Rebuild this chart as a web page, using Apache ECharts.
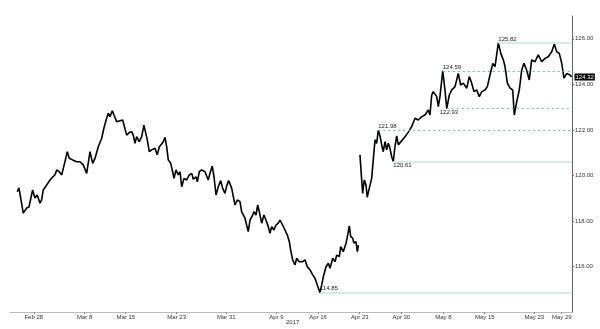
<!DOCTYPE html>
<html>
<head>
<meta charset="utf-8">
<script src="https://cdn.jsdelivr.net/npm/echarts@6/dist/echarts.min.js"></script>
<style>
 html, body { margin: 0; padding: 0; background: #fff; }
 #chart { width: 600px; height: 329px; }
</style>
</head>
<body>
<div id="chart"></div>
<script>
// x = trading days from Feb 28 (weekends squeezed out)
const times = [
 -1.88, -1.68, -1.16, -0.75, -0.48, -0.04, 0.24, 0.51, 0.84, 1.04,
 1.23, 1.64, 2.04, 2.36, 2.63, 2.84, 3.15, 3.44, 3.83, 4.11,
 4.35, 4.75, 5.23, 5.63, 6.02, 6.43, 6.83, 7.15, 7.43, 7.82,
 8.23, 8.50, 8.83, 9.02, 9.22, 9.50, 9.70, 10.02, 10.42, 10.74,
 10.90, 11.22, 11.53, 11.82, 12.01, 12.22, 12.42, 12.73, 13.02, 13.29,
 13.50, 13.69, 13.93, 14.22, 14.61, 14.89, 15.13, 15.41, 15.60, 15.81,
 16.01, 16.20, 16.49, 16.73, 16.89, 17.13, 17.40, 17.61, 17.81, 18.09,
 18.41, 18.72, 19.01, 19.20, 19.52, 19.68, 19.92, 20.20, 20.60, 20.80,
 20.99, 21.20, 21.47, 21.68, 21.92, 22.19, 22.48, 22.72, 22.99, 23.20,
 23.44, 23.80, 24.19, 24.47, 24.79, 24.99, 25.39, 25.78, 25.99, 26.31,
 26.47, 26.71, 26.91, 27.10, 27.39, 27.66, 27.90, 28.18, 28.38, 28.59,
 28.86, 29.10, 29.38, 29.58, 29.90, 30.18, 30.46, 30.70, 30.86, 31.10,
 31.38, 31.58, 31.89, 32.30, 32.57, 32.85, 33.17, 33.50, 33.77, 34.05,
 34.37, 34.58, 34.77, 35.09, 35.37, 35.57, 35.90, 36.17, 36.38, 36.69,
 36.85, 37.16, 37.49, 37.69, 37.88, 38.05, 38.29, 38.44, 38.68, 38.84,
 38.98, 39.05, 39.16, 39.28, 39.48, 39.68, 39.88, 40.03, 40.27, 40.56,
 40.75, 40.96, 41.16, 41.35, 41.56, 41.76, 41.95, 42.16, 42.36, 42.55,
 42.75, 42.96, 43.15, 43.35, 43.56, 43.75, 43.95, 44.55, 44.95, 45.35,
 45.75, 46.14, 46.55, 46.94, 47.34, 47.54, 47.75, 47.94, 48.35, 48.54,
 48.74, 49.07, 49.34, 49.55, 49.86, 50.14, 50.54, 50.93, 51.22, 51.53,
 51.94, 52.25, 52.54, 52.81, 53.14, 53.45, 53.74, 54.13, 54.41, 54.73,
 55.06, 55.33, 55.61, 55.73, 56.02, 56.33, 56.53, 56.81, 57.13, 57.45,
 57.64, 57.93, 58.24, 58.53, 58.80, 59.12, 59.43, 59.72, 60.12, 60.51,
 60.92, 61.32, 61.71, 62.12, 62.43, 62.72, 63.03, 63.32, 63.59, 63.92,
 64.31, 64.49
]
// null = weekend gap before the Apr 24 open
const prices = [
 119.28, 119.45, 118.34, 118.57, 118.61, 119.36, 119.01, 119.14, 118.78, 118.92,
 119.36, 119.58, 119.80, 119.93, 120.02, 120.24, 120.16, 120.02, 120.60, 121.04,
 120.75, 120.68, 120.60, 120.60, 120.46, 120.09, 121.04, 120.53, 120.75, 121.26,
 121.63, 122.08, 122.52, 122.73, 122.58, 122.84, 122.65, 122.36, 122.40, 122.43,
 122.21, 121.77, 121.88, 121.92, 121.77, 121.41, 121.70, 121.48, 121.70, 122.21,
 122.14, 121.56, 121.04, 121.12, 121.19, 120.90, 121.26, 121.38, 121.48, 121.67,
 121.26, 120.68, 120.53, 120.16, 119.87, 120.24, 120.02, 120.16, 119.50, 119.87,
 119.80, 120.02, 120.09, 119.83, 119.94, 119.72, 120.16, 120.24, 120.16, 120.24,
 119.80, 120.09, 120.41, 119.94, 119.14, 119.50, 119.77, 119.43, 119.21, 119.54,
 119.77, 119.43, 118.70, 118.92, 118.85, 118.41, 118.12, 117.53, 118.04, 118.26,
 118.41, 118.26, 118.70, 118.41, 117.90, 118.26, 118.04, 117.75, 117.46, 117.75,
 117.60, 117.82, 117.90, 118.04, 117.82, 117.60, 117.38, 117.09, 116.72, 116.29,
 116.07, 116.36, 116.21, 116.21, 116.29, 115.99, 115.85, 115.63, 115.48, 115.19,
 114.85, 115.19, 115.55, 115.99, 116.14, 115.92, 116.36, 116.21, 116.50, 116.43,
 116.87, 116.65, 117.02, 117.38, 117.78, 117.31, 117.24, 117.02, 117.09, 116.65,
 116.94, null, 120.90, 120.24, 119.21, 119.80, 119.58, 119.04, 119.43, 119.87,
 120.68, 121.56, 121.41, 121.98, 121.73, 121.34, 121.04, 121.48, 121.12, 121.41,
 121.19, 120.82, 120.61, 121.26, 121.73, 121.34, 121.41, 121.70, 121.90, 122.14,
 122.51, 122.43, 122.58, 122.65, 122.87, 122.65, 123.53, 123.68, 123.46, 123.02,
 123.46, 124.59, 123.75, 122.93, 123.53, 123.75, 123.90, 124.48, 123.97, 124.05,
 123.83, 124.34, 124.05, 123.68, 123.75, 123.46, 123.68, 123.75, 123.90, 124.41,
 124.92, 124.78, 125.51, 125.82, 125.36, 125.07, 124.78, 124.05, 123.83, 123.75,
 122.65, 123.24, 123.75, 124.63, 124.92, 124.63, 124.19, 125.07, 124.99, 125.29,
 124.99, 125.14, 125.21, 125.43, 125.77, 125.43, 125.36, 124.92, 124.27, 124.48,
 124.41, 124.32
]

const tickLabels = ['Feb 28', 'Mar 8', 'Mar 15', 'Mar 23', 'Mar 31', 'Apr 9', 'Apr 16',
 'Apr 23', 'Apr 30', 'May 8', 'May 15', 'May 23', 'May 29']
const tickPos = [0.10, 6.19, 11.11, 17.21, 23.15, 29.14, 34.13, 39.13, 44.11, 49.14, 54.10, 60.04, 63.32]
const yTicks = [116, 118, 120, 122, 124, 126]
const yearLabel = '2017'

// highs / lows marked on the chart
const levels = [125.82, 124.59, 122.93, 121.98, 120.61, 114.85]

const xMin = -2.75
const xMax = 64.55
const font = 'Liberation Sans'

const levelLook = {
 125.82: { dashed: false, pos: 'insideStartTop' },
 124.59: { dashed: true, pos: 'insideStartTop' },
 122.93: { dashed: true, pos: 'insideStartBottom', shift: -7 },
 121.98: { dashed: true, pos: 'insideStartTop' },
 120.61: { dashed: false, pos: 'insideStartBottom' },
 114.85: { dashed: false, pos: 'insideStartTop' },
}

const solidLine = { color: '#c6e9de', width: 1.5, type: 'solid' }
const dashedLine = { color: '#6dbfa7', width: 1, type: [2, 3] }

const markData = levels.map(lv => {
 const t0 = times[prices.indexOf(lv)]
 const look = levelLook[lv]
 return [
 {
 coord: [t0, lv],
 lineStyle: look.dashed ? dashedLine : solidLine,
 label: {
 show: true,
 position: look.pos,
 formatter: lv.toFixed(2),
 distance: [look.shift || 0, 1],
 fontSize: 6,
 fontFamily: font,
 color: '#222',
 },
 },
 { coord: [xMax, lv] },
 ]
})

const chart = echarts.init(document.getElementById('chart'))
chart.setOption({
 animation: false,
 backgroundColor: '#fff',
 grid: { left: 10, right: 28, top: 16, bottom: 17, outerBoundsMode: 'none' },
 xAxis: {
 type: 'value',
 min: xMin,
 max: xMax,
 axisLine: { show: true, onZero: false, lineStyle: { color: '#bbb', width: 1 } },
 axisTick: { show: true, customValues: tickPos, length: 2, lineStyle: { color: '#888' } },
 axisLabel: {
 customValues: tickPos,
 formatter: v => {
 let best = 0
 tickPos.forEach((p, i) => { if (Math.abs(p - v) < Math.abs(tickPos[best] - v)) best = i })
 return tickLabels[best]
 },
 fontSize: 6,
 fontFamily: font,
 color: '#333',
 margin: 2,
 },
 splitLine: { show: false },
 },
 yAxis: {
 type: 'value',
 position: 'right',
 min: 114,
 max: 127,
 axisLine: { show: true, onZero: false, lineStyle: { color: '#666', width: 1 } },
 axisTick: { show: true, customValues: yTicks, length: 2, lineStyle: { color: '#666' } },
 axisLabel: {
 customValues: yTicks,
 formatter: v => v.toFixed(2),
 fontSize: 6,
 fontFamily: font,
 color: '#333',
 margin: 3,
 },
 splitLine: { show: false },
 },
 graphic: [{
 type: 'text',
 left: 286,
 top: 319,
 style: { text: yearLabel, fontSize: 6, fontFamily: font, fill: '#333' },
 }],
 series: [{
 type: 'line',
 data: times.map((t, i) => [t, prices[i] === null ? '-' : prices[i]]),
 showSymbol: false,
 connectNulls: false,
 lineStyle: { color: '#000', width: 1.6 },
 endLabel: {
 show: true,
 formatter: p => p.value[1].toFixed(2),
 backgroundColor: '#000',
 color: '#fff',
 fontSize: 6,
 fontFamily: font,
 padding: [1, 1, 0, 1],
 distance: 3,
 },
 markLine: {
 silent: true,
 symbol: ['none', 'none'],
 data: markData,
 },
 }],
})
</script>
</body>
</html>
